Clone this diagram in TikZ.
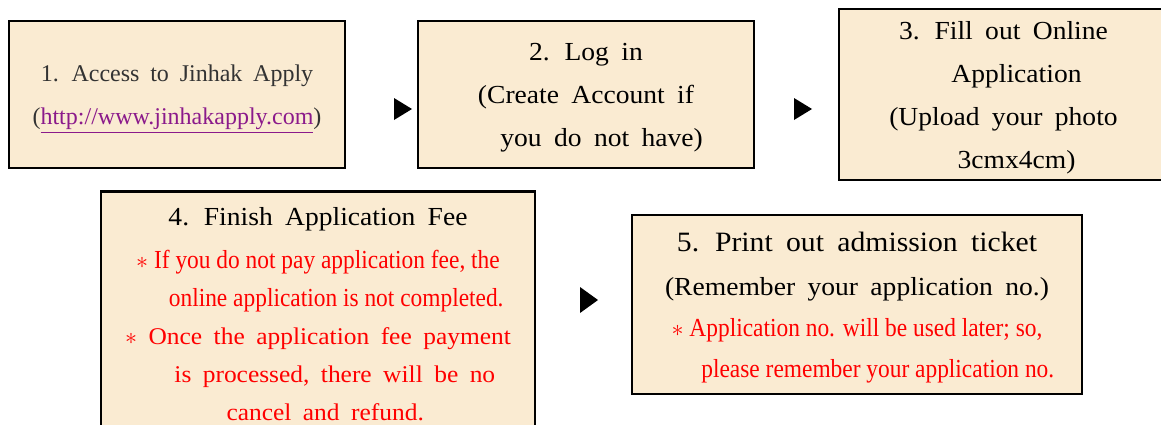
\documentclass[tikz,border=0pt]{standalone}
\usepackage{fontspec}
\setmainfont{Liberation Serif}[WordSpace=1.8,FakeStretch=1.06]
\newfontfamily\condfont{Liberation Serif}[FakeStretch=0.9]
\newfontfamily\plainfont{Liberation Serif}[WordSpace=1.8]
\definecolor{boxfill}{HTML}{FAEBD2}
\definecolor{linkpurple}{HTML}{8B1A8B}
\definecolor{softblack}{HTML}{333333}
\newcommand{\notemark}{$\ast$}

\begin{document}
\begin{tikzpicture}[x=0.5pt,y=-0.5pt,
    stepbox/.style={draw=black,line width=1.4pt,fill=boxfill,align=center,inner sep=0pt,
                    text depth=0pt,font=\fontsize{13}{21.5}\selectfont},
    marker/.style={fill=black}]
  \clip (0,0) rectangle (1161,424);
  \node[stepbox,minimum width=168pt,minimum height=73.5pt,
        font=\plainfont\fontsize{12}{21.5}\selectfont]       (s_1) at (177,94.5)
    {{\color{softblack}1. Access to Jinhak Apply}\\
     {\color{softblack}(}{\color{linkpurple}\underline{http://www.jinhakapply.com}}{\color{softblack})}};
  \node[stepbox,minimum width=168pt,minimum height=73.5pt]  (s_2) at (586,94.5)
    {2. Log in\\(Create Account if\\\hspace*{1.2em}you do not have)};
  \node[stepbox,minimum width=164.5pt,minimum height=85.5pt] (s_3) at (1003.5,94.5)
    {3. Fill out Online\\\hspace*{1em}Application\\(Upload your photo\\\hspace*{1em}3cmx4cm)};
  \node[stepbox,minimum width=217pt,minimum height=122.5pt,
        font=\fontsize{13}{19}\selectfont]                  (s_4) at (318,314)
    {4. Finish Application Fee\\[2.5pt]
     {\color{red}\condfont\notemark\ If you do not pay application fee, the}\\
     {\color{red}\condfont\hspace*{1.4em}online application is not completed.}\\
     {\color{red}\fontsize{12}{19}\selectfont\notemark\ Once the application fee payment}\\
     {\color{red}\fontsize{12}{19}\selectfont\hspace*{1.4em}is processed, there will be no}\\
     {\color{red}\fontsize{12}{19}\selectfont\hspace*{0.6em}cancel and refund.}};
  \node[stepbox,minimum width=225pt,minimum height=89.5pt,
        font=\fontsize{13}{20.5}\selectfont]                (s_5) at (857,304.5)
    {{\fontsize{14}{20.5}\selectfont 5. Print out admission ticket}\\[1.5pt]
     (Remember your application no.)\\
     {\color{red}\condfont\notemark\ Application no. will be used later; so,}\\
     {\color{red}\condfont\hspace*{1.6em}please remember your application no.}};
  \coordinate (a_1) at (403,109);
  \coordinate (a_2) at (803,109);
  \coordinate (a_3) at (589,300);
  \fill[marker] (a_1) ++(-9,-11) -- ++(18,11) -- ++(-18,11) -- cycle;
  \fill[marker] (a_2) ++(-9,-11) -- ++(18,11) -- ++(-18,11) -- cycle;
  \fill[marker] (a_3) ++(-9,-13) -- ++(18,13) -- ++(-18,13) -- cycle;
\end{tikzpicture}
\end{document}
